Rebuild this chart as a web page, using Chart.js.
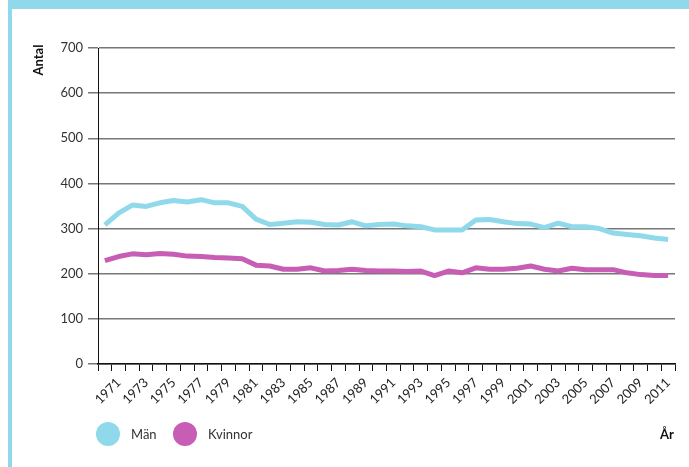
<!DOCTYPE html>
<html>
<head>
<meta charset="utf-8">
<script src="https://cdn.jsdelivr.net/npm/chart.js@4/dist/chart.umd.min.js"></script>
<style>
  html, body { margin: 0; padding: 0; background: #fff; }
  #wrap { position: relative; width: 689px; height: 467px; overflow: hidden; font-family: Lato, "Open Sans", sans-serif; }
  #c { position: absolute; left: 0; top: 0; }
  .band-top { position: absolute; left: 8px; top: 0; width: 681px; height: 9px; background: #8fd9ea; }
  .band-left { position: absolute; left: 8px; top: 0; width: 4px; height: 467px; background: #8fd9ea; }
  .ytitle { position: absolute; left: 38px; top: 60px; width: 60px; height: 16px; line-height: 16px; margin-left: -30px; margin-top: -8px; text-align: center; transform: rotate(-90deg); font-weight: bold; font-size: 13px; color: #111; white-space: nowrap; }
  .xtitle { position: absolute; left: 660px; top: 434px; transform: translateY(-50%); font-weight: bold; font-size: 13px; color: #111; }
  .leg { position: absolute; top: 434px; transform: translateY(-50%); display: flex; align-items: center; font-size: 13px; color: #333; }
  .dot { width: 24px; height: 24px; border-radius: 50%; margin-right: 11px; }
</style>
</head>
<body>
<div id="wrap">
  <canvas id="c" width="689" height="467"></canvas>
  <div class="band-top"></div>
  <div class="band-left"></div>
  <div class="ytitle" id="ytitle"></div>
  <div class="xtitle" id="xtitle"></div>
  <div id="legend"></div>
</div>
<script>
const years = [1970,1971,1972,1973,1974,1975,1976,1977,1978,1979,
               1980,1981,1982,1983,1984,1985,1986,1987,1988,1989,
               1990,1991,1992,1993,1994,1995,1996,1997,1998,1999,
               2000,2001,2002,2003,2004,2005,2006,2007,2008,2009,
               2010,2011];
const man = [308,334,352,349,357,362,359,364,357,357,
             349,321,309,312,315,314,309,308,315,306,
             309,310,306,304,297,297,297,319,320,315,
             311,310,302,312,304,304,300,290,287,284,
             279,276];
const kvinnor = [229,238,244,242,245,243,239,238,236,235,
                 233,219,217,210,210,213,206,207,210,207,
                 206,206,205,206,196,206,202,213,210,210,
                 212,217,210,206,212,209,209,209,202,198,
                 196,196];
const seriesNames = ["Män", "Kvinnor"];
const seriesColors = ["#8fd9ea", "#c75db4"];
const yTicks = [0,100,200,300,400,500,600,700];
const yTitle = "Antal";
const xTitle = "År";

document.getElementById('ytitle').textContent = yTitle;
document.getElementById('xtitle').textContent = xTitle;
const legendPos = [96, 173];
const legend = document.getElementById('legend');
seriesNames.forEach((n, i) => {
  const d = document.createElement('div');
  d.className = 'leg';
  d.style.left = legendPos[i] + 'px';
  d.innerHTML = '<span class="dot" style="background:' + seriesColors[i] + '"></span><span></span>';
  d.lastChild.textContent = n;
  legend.appendChild(d);
});

const ctx = document.getElementById('c').getContext('2d');
new Chart(ctx, {
  type: 'line',
  data: {
    labels: years.map(String),
    datasets: [
      { label: seriesNames[0], data: man, borderColor: seriesColors[0], backgroundColor: seriesColors[0], borderWidth: 5, pointRadius: 0, tension: 0, borderJoinStyle: 'round' },
      { label: seriesNames[1], data: kvinnor, borderColor: seriesColors[1], backgroundColor: seriesColors[1], borderWidth: 5, pointRadius: 0, tension: 0, borderJoinStyle: 'round' }
    ]
  },
  options: {
    responsive: false,
    animation: false,
    devicePixelRatio: 1,
    layout: { padding: { left: 0, top: 48, right: 14, bottom: 63 } },
    plugins: { legend: { display: false }, tooltip: { enabled: false } },
    scales: {
      x: {
        offset: true,
        grid: { offset: true, drawOnChartArea: false, drawTicks: true, tickLength: 7, color: '#111', lineWidth: 1 },
        border: { display: true, color: '#111', width: 1.5 },
        ticks: {
          autoSkip: false, minRotation: 45, maxRotation: 45, padding: 4,
          color: '#222', font: { family: 'Lato', size: 13 },
          callback: function(v, i) { const y = years[i]; return (y % 2 === 1) ? String(y) : ''; }
        },
        afterFit: function(s) { s.height = 40; }
      },
      y: {
        min: 0, max: 700,
        afterBuildTicks: function(s) { s.ticks = yTicks.map(v => ({ value: v })); },
        grid: { color: '#777', lineWidth: 1.5, tickLength: 10, drawTicks: true },
        border: { display: true, color: '#111', width: 1 },
        ticks: { padding: 5, color: '#333', font: { family: 'Lato', size: 13 } },
        afterFit: function(s) { s.width = 98; }
      }
    }
  }
});
</script>
</body>
</html>
